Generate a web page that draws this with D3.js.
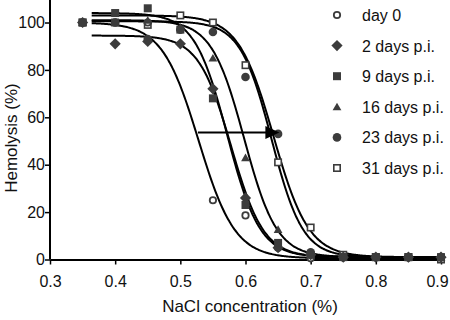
<!DOCTYPE html>
<html>
<head>
<meta charset="utf-8">
<script src="https://cdn.jsdelivr.net/npm/d3@7/dist/d3.min.js"></script>
<style>
html,body{margin:0;padding:0;background:#fff;}
text{font-family:"Liberation Sans",Arial,sans-serif;}
</style>
</head>
<body>
<svg id="chart" width="450" height="320"></svg>
<script>
// ---- data ----
const concentrations = [0.35, 0.40, 0.45, 0.50, 0.55, 0.60, 0.65, 0.70, 0.75, 0.80, 0.85, 0.90];
const seriesNames = ["day 0", "2 days p.i.", "9 days p.i.", "16 days p.i.", "23 days p.i.", "31 days p.i."];
const seriesSymbols = ["openCircle", "diamond", "square", "triangle", "circle", "openSquare"];
const day0   = [100, 100, 100, null, 25, 18.6, 5, 0.5, 1, 1, 1, 1];
const day2   = [100, 91, 92, 91, 72, 26, 5, 2, 1, 1, 1, 1];
const day9   = [100, 104, 106, 97, 68, 23, 7, 2, 1, 1, 1, 1];
const day16  = [100, 100, 101, 98, 85, 43, 12.7, 3, 1, 1, 1, 1];
const day23  = [100, 100, 93, 97, 96, 77, 53, 3, 1, 1, 1, 1];
const day31  = [100, 100, 99, 103, 100, 82, 41, 13.5, 2, 1, 1, 0];
// fitted sigmoid parameters (top, bottom, EC50, slope)
const fitTop    = [100, 94.5, 104, 101, 100.5, 103];
const fitBottom = [0.5, 1, 1, 1, 1, 1];
const fitEC50   = [0.528, 0.578, 0.572, 0.598, 0.640, 0.643];
const fitSlope  = [0.028, 0.025, 0.025, 0.025, 0.024, 0.027];
const xTicks = [0.3, 0.4, 0.5, 0.6, 0.7, 0.8, 0.9];
const yTicks = [0, 20, 40, 60, 80, 100];
const arrowFrom = 0.527, arrowTo = 0.652, arrowLevel = 53.6;

const allSeries = [day0, day2, day9, day16, day23, day31];
const drawOrder = [5, 0, 1, 2, 3, 4];

const svg = d3.select("#chart");
const x = d3.scaleLinear().domain([0.3, 0.9]).range([50, 441]);
const y = d3.scaleLinear().domain([0, 109.5]).range([259.5, 0]);

const markColor = "#3c3c3c";

// axes
const xAxis = d3.axisBottom(x).tickValues(xTicks).tickFormat(d3.format(".1f")).tickSize(5).tickSizeOuter(0);
const yAxis = d3.axisLeft(y).tickValues(yTicks).tickSize(5).tickSizeOuter(0);
const gx = svg.append("g").attr("transform", "translate(0,259.5)").call(xAxis);
const gy = svg.append("g").attr("transform", "translate(50,0)").call(yAxis);
[gx, gy].forEach(g => {
  g.select(".domain").attr("stroke", "#000").attr("stroke-width", 2);
  g.selectAll(".tick line").attr("stroke", "#000").attr("stroke-width", 1.5);
  g.selectAll(".tick text").attr("font-size", 16).attr("fill", "#111").attr("font-family", "Liberation Sans, Arial, sans-serif");
});
gy.select(".domain").attr("d", "M0," + y(109.5) + "V" + y(0));
gx.selectAll(".tick text").attr("dy", "1.2em");
gx.selectAll(".tick text").filter(d => d === 0.9).attr("dx", -4);
gy.selectAll(".tick text").attr("x", -5);

svg.append("text").attr("x", 250).attr("y", 312).attr("text-anchor", "middle")
  .attr("font-size", 17).attr("fill", "#111").text("NaCl concentration (%)");
svg.append("text").attr("transform", "translate(17,138) rotate(-90)").attr("text-anchor", "middle")
  .attr("font-size", 17).attr("fill", "#111").text("Hemolysis (%)");

// fitted curves
const xs = d3.range(0.364, 0.9001, 0.002);
const line = d3.line().x(d => x(d[0])).y(d => y(d[1])).curve(d3.curveMonotoneX);
allSeries.forEach((s, i) => {
  const pts = xs.map(c => [c, fitBottom[i] + (fitTop[i] - fitBottom[i]) / (1 + Math.exp((c - fitEC50[i]) / fitSlope[i]))]);
  svg.append("path").attr("d", line(pts)).attr("fill", "none").attr("stroke", "#000").attr("stroke-width", 2);
});

// markers
function drawSymbol(g, type, cx, cy) {
  if (type === "openCircle") {
    g.append("circle").attr("cx", cx).attr("cy", cy).attr("r", 3.2).attr("fill", "#fff").attr("stroke", markColor).attr("stroke-width", 1.8);
  } else if (type === "circle") {
    g.append("circle").attr("cx", cx).attr("cy", cy).attr("r", 4.3).attr("fill", markColor);
  } else if (type === "square") {
    g.append("rect").attr("x", cx - 4).attr("y", cy - 4).attr("width", 8).attr("height", 8).attr("fill", markColor);
  } else if (type === "openSquare") {
    g.append("rect").attr("x", cx - 3.2).attr("y", cy - 3.2).attr("width", 6.4).attr("height", 6.4).attr("fill", "#fff").attr("stroke", markColor).attr("stroke-width", 1.6);
  } else if (type === "diamond") {
    g.append("path").attr("d", d3.symbol(d3.symbolDiamond2, 80)()).attr("transform", `translate(${cx},${cy})`).attr("fill", markColor);
  } else if (type === "triangle") {
    g.append("path").attr("d", d3.symbol(d3.symbolTriangle2, 55)()).attr("transform", `translate(${cx},${cy + 1})`).attr("fill", markColor);
  }
}
const gm = svg.append("g");
drawOrder.forEach(i => {
  allSeries[i].forEach((v, j) => {
    if (v === null) return;
    drawSymbol(gm, seriesSymbols[i], x(concentrations[j]), y(v));
  });
});

// arrow (drawn over the markers)
svg.append("line").attr("x1", x(arrowFrom)).attr("x2", x(arrowTo) - 10)
  .attr("y1", y(arrowLevel)).attr("y2", y(arrowLevel)).attr("stroke", "#000").attr("stroke-width", 2);
const ax = x(arrowTo), ay = y(arrowLevel);
svg.append("path").attr("d", `M${ax},${ay}L${ax - 14},${ay - 6.5}L${ax - 14},${ay + 6.5}Z`).attr("fill", "#000");

// legend
const lg = svg.append("g");
seriesNames.forEach((n, i) => {
  const ly = 15 + i * 30.6;
  drawSymbol(lg, seriesSymbols[i], 337, ly);
  lg.append("text").attr("x", 362).attr("y", ly + 6).attr("font-size", 16).attr("fill", "#111").text(n);
});
</script>
</body>
</html>
